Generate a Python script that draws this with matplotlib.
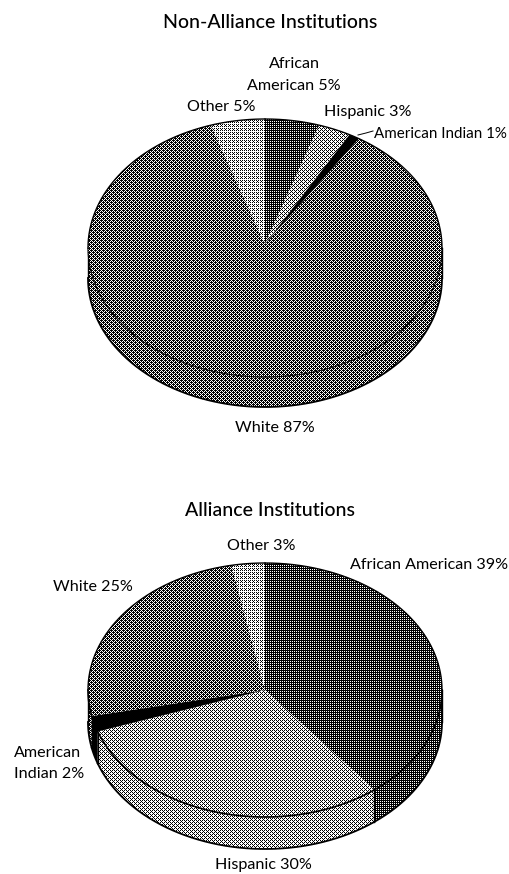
import numpy as np
import matplotlib
matplotlib.use("Agg")
import matplotlib.pyplot as plt
from matplotlib.patches import Polygon

W, H = 510, 874

# slices run clockwise from 12 o'clock
categories = ["African American", "Hispanic", "American Indian", "White", "Other"]
non_alliance = [5, 3, 1, 87, 5]
alliance = [39, 30, 2, 25, 3]

# ink coverage of the halftone for each slice
non_alliance_ink = [0.78, 0.35, 1.0, 0.6, 0.3]
alliance_ink = [0.78, 0.38, 1.0, 0.6, 0.3]

BAYER = np.array([[0, 8, 2, 10], [12, 4, 14, 6], [3, 11, 1, 9], [15, 7, 13, 5]]) / 16 + 1 / 32
yy, xx = np.mgrid[0:H, 0:W]
THRESH = BAYER[yy % 4, xx % 4]


def arc(cx, cy, rx, ry, a0, a1, dy=0):
    n = max(int(abs(a1 - a0) * 200), 2)
    t = np.linspace(a0, a1, n)
    return np.column_stack([cx + rx * np.sin(t), cy - ry * np.cos(t) + dy])


def texture(ax, ink, path, zorder):
    img = (THRESH >= ink).astype(float)
    im = ax.imshow(img, cmap="gray", vmin=0, vmax=1, extent=(0, W, H, 0),
                   interpolation="nearest", zorder=zorder, aspect="auto")
    im.set_clip_path(path)


def draw_pie(ax, values, inks, cx, cy, rx, ry, depth, apex_y, rim_lw):
    fr = np.cumsum([0] + list(values)) / sum(values) * 2 * np.pi

    # side wall first: only the front half of the rim shows
    for i in range(len(values)):
        a0, a1 = max(fr[i], np.pi / 2), min(fr[i + 1], 3 * np.pi / 2)
        if a1 <= a0:
            continue
        top = arc(cx, cy, rx, ry, a0, a1)
        low = arc(cx, cy, rx, ry, a1, a0, dy=depth)
        wall = Polygon(np.vstack([top, low]), closed=True, fc="none", ec="none",
                       transform=ax.transData)
        ax.add_patch(wall)
        texture(ax, inks[i], wall, 2)
        ax.plot(low[:, 0], low[:, 1], color="black", lw=1.3, zorder=3)
        if fr[i + 1] < 3 * np.pi / 2 and fr[i + 1] > np.pi / 2:
            ax.plot([top[-1, 0], low[0, 0]], [top[-1, 1], low[0, 1]], color="black", lw=1.0, zorder=3)

    # silhouette sides
    for a in (np.pi / 2, 3 * np.pi / 2):
        x = cx + rx * np.sin(a)
        ax.plot([x, x], [cy, cy + depth], color="black", lw=1.0, zorder=3)

    # top face, no lines between the slices
    for i in range(len(values)):
        rim = arc(cx, cy, rx, ry, fr[i], fr[i + 1])
        pts = np.vstack([[cx, apex_y], rim])
        face = Polygon(pts, closed=True, fc="none", ec="none", transform=ax.transData)
        ax.add_patch(face)
        texture(ax, inks[i], face, 4)

    # back edge is heavier than the front rim
    back0 = arc(cx, cy, rx, ry, 3 * np.pi / 2, 2 * np.pi)
    back1 = arc(cx, cy, rx, ry, 0, np.pi / 2)
    front = arc(cx, cy, rx, ry, np.pi / 2, 3 * np.pi / 2)
    for part in (back0, back1):
        ax.plot(part[:, 0], part[:, 1], color="black", lw=1.0, zorder=5)
    ax.plot(front[:, 0], front[:, 1], color="black", lw=rim_lw, zorder=5)


fig = plt.figure(figsize=(W / 100, H / 100), dpi=100)
ax = fig.add_axes([0, 0, 1, 1])
plt.rcParams["font.family"] = "Lato"

draw_pie(ax, non_alliance, non_alliance_ink, 265, 248, 177, 129, 30, 244, 0.75)
draw_pie(ax, alliance, alliance_ink, 265, 690, 177, 127, 32, 690, 1.2)

ax.set_xlim(0, W)
ax.set_ylim(H, 0)
ax.axis("off")

LABEL = dict(fontsize=11.6, color="black", va="center", family="Lato")
TITLE = dict(fontsize=14, color="black", va="center", ha="center", family="Lato", weight="medium")

ax.text(270, 23, "Non-Alliance Institutions", **TITLE)
ax.text(270, 511, "Alliance Institutions", **TITLE)

ax.text(294, 64, "African", ha="center", **LABEL)
ax.text(294, 86, f"American {non_alliance[0]}%", ha="center", **LABEL)
ax.text(221, 107, f"Other {non_alliance[4]}%", ha="center", **LABEL)
ax.text(324, 112, f"Hispanic {non_alliance[1]}%", ha="left", **LABEL)
ax.text(374, 134, f"American Indian {non_alliance[2]}%", ha="left", fontsize=10.9,
        color="black", va="center", family="Lato")
ax.plot([358, 366, 373], [135, 133, 131], color="black", lw=0.7, zorder=6)
ax.text(275, 428, f"White {non_alliance[3]}%", ha="center", **LABEL)

ax.text(261, 546, f"Other {alliance[4]}%", ha="center", **LABEL)
ax.text(350, 565, f"African American {alliance[0]}%", ha="left", **LABEL)
ax.text(53, 587, f"White {alliance[3]}%", ha="left", **LABEL)
ax.text(14, 753, "American", ha="left", **LABEL)
ax.text(14, 774, f"Indian {alliance[2]}%", ha="left", **LABEL)
ax.text(263, 865, f"Hispanic {alliance[1]}%", ha="center", **LABEL)

fig.savefig("out.png", dpi=100, facecolor="white")
